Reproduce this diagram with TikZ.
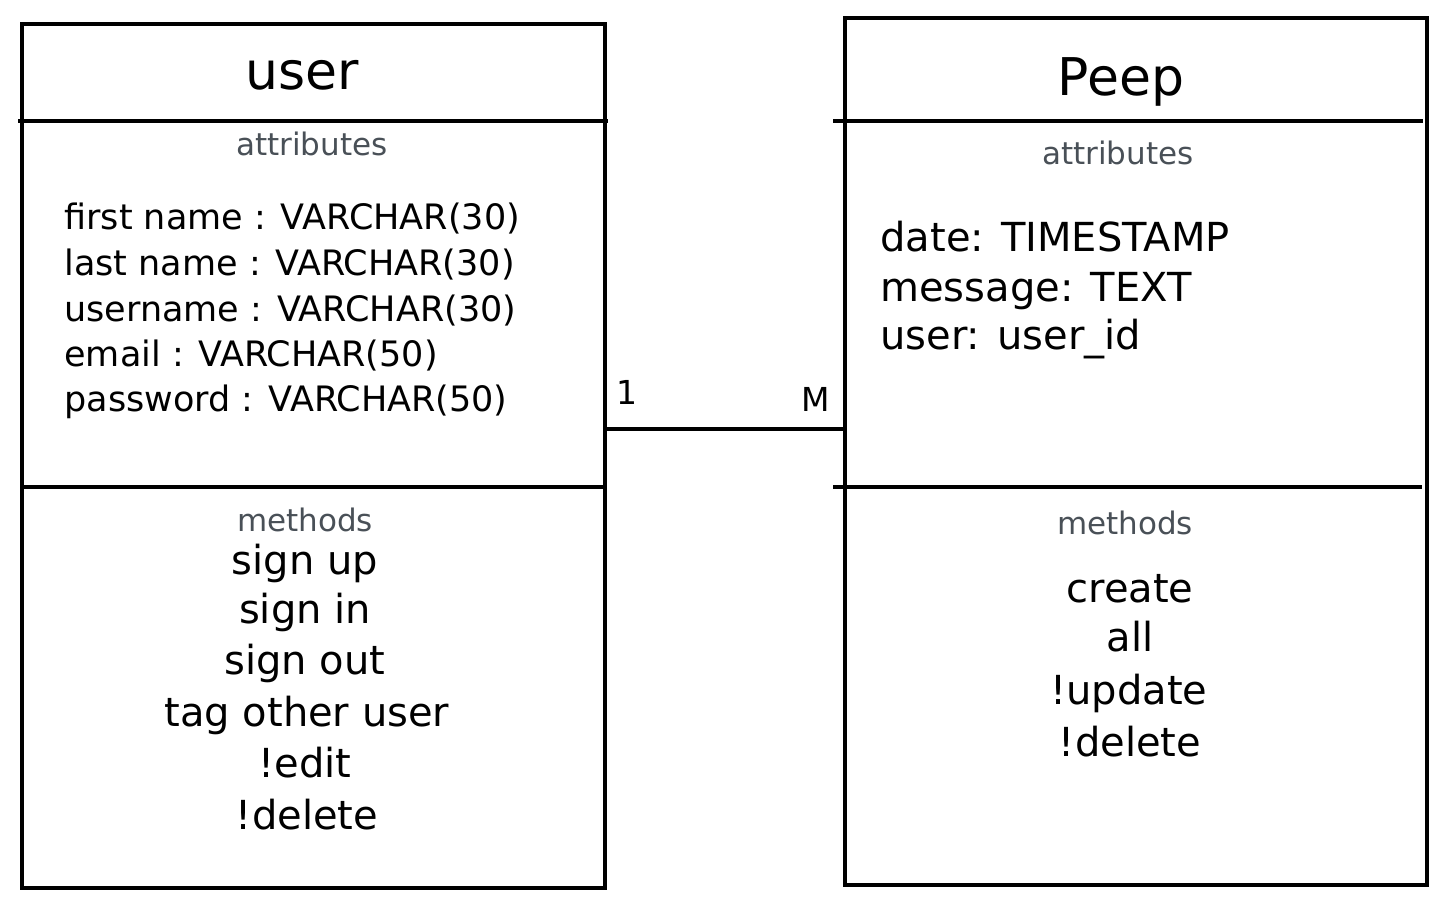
\documentclass[tikz,border=0pt]{standalone}
\usepackage{fontspec}
\setmainfont{DejaVu Sans}
\definecolor{labgray}{HTML}{495057}
\begin{document}
\begin{tikzpicture}[x=0.5pt,y=-0.5pt,
  box/.style={draw=black, line width=1.7pt, inner sep=0pt, outer sep=0pt, rectangle},
  divider/.style={draw=black, line width=1.7pt},
  link/.style={draw=black, line width=1.7pt},
  title/.style={font=\fontsize{26}{30}\selectfont, anchor=base, inner sep=0pt},
  section/.style={font=\fontsize{15.5}{18}\selectfont, text=labgray, anchor=base, inner sep=0pt},
  attr/.style={font=\fontsize{17.5}{21}\selectfont, anchor=base west, inner sep=0pt},
  attrR/.style={font=\fontsize{20}{24}\selectfont, anchor=base west, inner sep=0pt},
  meth/.style={font=\fontsize{20}{24}\selectfont, anchor=base, inner sep=0pt},
  mult/.style={font=\fontsize{16.5}{19}\selectfont, anchor=base, inner sep=0pt}]
\useasboundingbox (0,0) rectangle (1447,908);

% boxes
\node[box, minimum width=291.5pt, minimum height=432pt] (user) at (313.5,456) {};
\node[box, minimum width=291pt, minimum height=433.5pt] (peep) at (1136,451.5) {};

% dividers
\draw[divider] (18,121) -- (608,121);
\draw[divider] (22,487) -- (606,487);
\draw[divider] (833,121) -- (1423,121);
\draw[divider] (833,487) -- (1422,487);

% titles
\node[title] (tuser) at (302,90) {user};
\node[title] (tpeep) at (1121,96) {Peep};

% section labels
\node[section] (ua) at (312,156) {attributes};
\node[section] (um) at (305,532) {methods};
\node[section] (pa) at (1118,165) {attributes};
\node[section] (pm) at (1125,535) {methods};

% user attributes
\node[attr] (u1) at (64,230) {first name : VARCHAR(30)};
\node[attr] (u2) at (64,276) {last name : VARCHAR(30)};
\node[attr] (u3) at (64,322) {username : VARCHAR(30)};
\node[attr] (u4) at (64,367) {email : VARCHAR(50)};
\node[attr] (u5) at (64,412) {password : VARCHAR(50)};

% user methods
\node[meth] (m1) at (305,575) {sign up};
\node[meth] (m2) at (305,624) {sign in};
\node[meth] (m3) at (305,675) {sign out};
\node[meth] (m4) at (307,727) {tag other user};
\node[meth] (m5) at (305,778) {!edit};
\node[meth] (m6) at (307,830) {!delete};

% peep attributes
\node[attrR] (p1) at (880,252) {date: TIMESTAMP};
\node[attrR] (p2) at (880,302) {message: TEXT};
\node[attrR] (p3) at (880,350) {user: user\_id};

% peep methods
\node[meth] (q1) at (1130,603) {create};
\node[meth] (q2) at (1130,652) {all};
\node[meth] (q3) at (1129,705) {!update};
\node[meth] (q4) at (1130,757) {!delete};

% connector
\draw[link] (user.east |- 0,429) -- (peep.west |- 0,429);
\node[mult] (one) at (627,405) {1};
\node[mult] (many) at (816,412) {M};
\end{tikzpicture}
\end{document}
